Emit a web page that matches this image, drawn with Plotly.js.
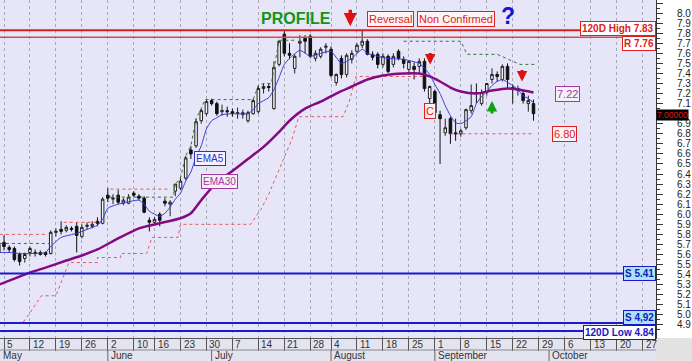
<!DOCTYPE html>
<html><head><meta charset="utf-8">
<script src="https://cdn.plot.ly/plotly-3.0.1.min.js"></script>
<style>html,body{margin:0;padding:0;background:#fff;}#chart{width:692px;height:361px;}</style>
</head><body><div id="chart"></div>
<script>
// trading-day index: 0 = Mon 5 May 2014 (first candle is index -1 = 2 May)
const firstDay = -1;
const openP  = [5.62,5.72,5.67,5.66,5.60,5.56,5.62,5.62,5.62,5.62,5.61,5.82,5.85,5.84,5.86,5.88,5.78,5.88,5.88,5.93,5.91,6.19,6.15,6.19,6.11,6.11,6.21,6.18,6.16,5.94,5.92,6.00,6.13,6.10,6.23,6.26,6.36,6.64,6.68,6.93,7.00,7.13,7.10,7.02,7.03,7.02,7.00,6.99,6.93,7.00,7.02,7.25,7.27,7.05,7.49,7.79,7.60,7.45,7.70,7.75,7.77,7.55,7.57,7.66,7.64,7.31,7.55,7.39,7.54,7.62,7.68,7.72,7.59,7.59,7.49,7.57,7.49,7.62,7.54,7.44,7.47,7.47,7.52,7.15,7.22,6.99,6.81,6.95,6.81,6.80,6.86,7.03,7.21,7.10,7.21,7.34,7.39,7.34,7.47,7.26,7.23,7.20,7.10,7.10];
const highP  = [5.75,5.79,5.69,5.68,5.62,5.62,5.68,5.65,5.64,5.63,5.84,5.86,5.93,5.89,5.88,5.92,5.90,5.92,5.93,5.97,6.17,6.26,6.20,6.24,6.16,6.20,6.23,6.20,6.18,5.97,5.97,6.02,6.16,6.14,6.30,6.36,6.58,6.68,6.95,7.05,7.14,7.15,7.12,7.09,7.07,7.05,7.06,7.04,7.03,7.15,7.28,7.30,7.30,7.52,7.73,7.82,7.70,7.59,7.78,7.78,7.79,7.63,7.66,7.70,7.67,7.40,7.58,7.60,7.63,7.70,7.83,7.74,7.62,7.61,7.60,7.59,7.60,7.64,7.57,7.53,7.51,7.55,7.55,7.28,7.24,7.03,6.95,6.97,6.95,6.85,7.05,7.29,7.30,7.24,7.30,7.45,7.42,7.49,7.50,7.29,7.28,7.23,7.18,7.14];
const lowP   = [5.58,5.64,5.62,5.53,5.49,5.52,5.58,5.58,5.59,5.58,5.60,5.78,5.80,5.82,5.83,5.62,5.76,5.85,5.86,5.88,5.90,6.12,6.10,6.10,6.09,6.10,6.17,6.14,6.01,5.83,5.90,5.88,6.08,5.98,6.18,6.24,6.34,6.55,6.66,6.90,6.98,7.08,6.98,6.98,6.97,6.97,6.95,6.95,6.91,6.99,7.00,7.20,7.22,7.04,7.47,7.57,7.54,7.40,7.56,7.60,7.55,7.52,7.55,7.60,7.36,7.28,7.35,7.36,7.50,7.60,7.65,7.58,7.53,7.45,7.46,7.40,7.46,7.53,7.45,7.39,7.34,7.40,7.22,7.10,7.00,6.50,6.78,6.70,6.73,6.77,6.84,7.00,7.10,7.08,7.18,7.30,7.32,7.32,7.25,7.10,7.18,7.10,7.02,6.93];
const closeP = [5.70,5.68,5.65,5.55,5.53,5.60,5.66,5.61,5.60,5.60,5.82,5.83,5.83,5.87,5.85,5.79,5.87,5.89,5.90,5.91,6.15,6.16,6.16,6.12,6.14,6.17,6.19,6.16,6.02,5.92,5.95,5.94,6.11,6.12,6.30,6.33,6.56,6.60,6.92,7.03,7.12,7.10,7.00,7.03,7.02,7.00,7.01,7.01,7.01,7.13,7.25,7.27,7.26,7.46,7.72,7.60,7.58,7.57,7.72,7.72,7.57,7.60,7.64,7.67,7.38,7.39,7.39,7.58,7.60,7.68,7.72,7.59,7.56,7.49,7.57,7.42,7.57,7.55,7.50,7.52,7.44,7.52,7.25,7.27,7.01,6.95,6.86,6.80,6.80,6.83,7.04,7.08,7.20,7.21,7.30,7.39,7.37,7.47,7.34,7.24,7.25,7.13,7.13,7.00];

const ema5Day = [-1,1,3,6,8,9,11,14,16,18,19,20,22,26,27,28,30,31,32,33,34,35,36,37,38,39,40,41,42,44,47,48,49,51,52,53,54,55,57,59,61,63,65,67,69,70,72,74,77,80,81,82,83,84,85,86,87,88,89,90,91,92,93,94,95,96,97,98,99,100,101,102];
const ema5Val = [5.62,5.62,5.61,5.61,5.62,5.68,5.77,5.81,5.85,5.89,5.95,6.06,6.10,6.14,6.10,6.03,5.98,6.01,6.07,6.15,6.21,6.33,6.42,6.57,6.68,6.85,6.93,6.96,6.99,7.00,7.00,7.04,7.10,7.16,7.24,7.36,7.49,7.55,7.63,7.57,7.60,7.62,7.50,7.55,7.64,7.60,7.57,7.55,7.54,7.50,7.45,7.39,7.29,7.20,7.08,6.98,6.91,6.90,6.93,6.97,7.10,7.17,7.22,7.28,7.32,7.34,7.31,7.28,7.24,7.18,7.15,7.11];

const ema30Day = [-1,2,5,8,12,15,18,22,26,30,34,36,38,41,44,47,50,53,55,58,61,64,67,70,73,77,80,82,84,86,88,91,94,97,99,102];
const ema30Val = [5.30,5.36,5.42,5.47,5.54,5.59,5.65,5.76,5.86,5.91,5.96,6.01,6.14,6.32,6.43,6.55,6.67,6.82,6.93,7.05,7.12,7.20,7.27,7.34,7.38,7.40,7.40,7.37,7.32,7.26,7.22,7.20,7.23,7.25,7.24,7.21];

// upper channel (green dotted)
const upperDay = [-0.8,8.8,null,20.4,32.6,33,34,35,36,37,38,38.7,48,49,50,51.5,52.2,53,56.5,null,77,88,89.2,95,99.4,102.3];
const upperVal = [5.71,5.71,null,6.17,6.17,6.30,6.36,6.58,6.68,6.95,7.05,7.14,7.14,7.28,7.30,7.30,7.52,7.73,7.73,null,7.72,7.72,7.59,7.59,7.49,7.49];
// resistance steps (red dotted)
const resDay = [-0.8,8.5,null,11.5,18.5,null,20.5,32];
const resVal = [5.80,5.80,null,5.92,5.92,null,6.25,6.25];
// trailing stop (red dotted)
const stopDay = [-0.8,3.6,5,7,7.2,10,11,12.5,18,18,22.5,22.5,27.5,28.5,33.5,34,47.5,49.5,51,53.5,55.5,56.8,65.3,66.5,67.8,80.7,null,86,102.2];
const stopVal = [4.92,4.92,5.02,5.17,5.19,5.19,5.33,5.52,5.52,5.57,5.57,5.61,5.61,5.77,5.77,5.90,5.90,6.05,6.20,6.50,6.75,6.97,6.97,7.12,7.37,7.37,null,6.80,6.80];

const levelVal   = [7.83, 7.76, 5.41, 4.92, 4.84];
const levelText  = ['120D High 7.83', 'R 7.76', 'S 5.41', 'S 4,92', '120D Low 4.84'];

const weekDay    = [0,5,10,15,20,25,29,34,39,44,49,54,59,63,68,73,78,83,88,93,98,103,108,113,118,123];
const weekLabel  = ['5','12','19','26','2','10','16','23','30','7','14','21','28','4','11','18','25','1','8','15','22','29','6','13','20','27'];
const monthDay   = [-0.77,20,40,63,83,105];
const monthLabel = ['May','June','July','August','September','October'];

// price-scale ticks (7.0 is covered by the last-price marker)
const yTickVals = [4.9,5.0,5.1,5.2,5.3,5.4,5.5,5.6,5.7,5.8,5.9,6.0,6.1,6.2,6.3,6.4,6.5,6.6,6.7,6.8,6.9,7.1,7.2,7.3,7.4,7.5,7.6,7.7,7.8,7.9,8.0,8.1];
const yTickText = ['4.9','5.0','5.1','5.2','5.3','5.4','5.5','5.6','5.7','5.8','5.9','6.0','6.1','6.2','6.3','6.4','6.5','6.6','6.7','6.8','6.9','7.1','7.2','7.3','7.4','7.5','7.6','7.7','7.8','7.9','8.0','8.1'];

const lastClose = '7.00000';
const ema30Last = '7.22';
const stopLast  = '6.80';

const FONT = 'Liberation Sans, Arial, sans-serif';
const days = openP.map((_, i) => firstDay + i);

const traces = [
  {type:'scatter', mode:'lines', x:resDay, y:resVal, line:{color:'#e85858', width:1, dash:'dot'}, hoverinfo:'skip', connectgaps:false},
  {type:'scatter', mode:'lines', x:stopDay, y:stopVal, line:{color:'#e85858', width:1, dash:'dot'}, hoverinfo:'skip', connectgaps:false},
  {type:'scatter', mode:'lines', x:upperDay, y:upperVal, line:{color:'#2a7a2a', width:1, dash:'dot'}, hoverinfo:'skip', connectgaps:false},
  {type:'scatter', mode:'lines', x:ema30Day, y:ema30Val, line:{color:'#840a84', width:2.5, shape:'spline', smoothing:0.6}, hoverinfo:'skip'},
  {type:'candlestick', x:days, open:openP, high:highP, low:lowP, close:closeP,
   increasing:{line:{color:'#222', width:1}, fillcolor:'#f4f4fc'},
   decreasing:{line:{color:'#111', width:1}, fillcolor:'#111'},
   whiskerwidth:0, hoverinfo:'skip'},
  {type:'scatter', mode:'lines', x:ema5Day, y:ema5Val, line:{color:'#3a3ad8', width:1, shape:'spline', smoothing:0.5}, hoverinfo:'skip'}
];

const shapes = [];
const lvlStyle = [
  {color:'#d82020', width:2}, {color:'#e04848', width:1.5},
  {color:'#1a1ad0', width:2}, {color:'#1a1ad0', width:2}, {color:'#1a1ad0', width:2}
];
levelVal.forEach((v, i) => shapes.push({type:'line', xref:'paper', x0:0, x1:1, yref:'y', y0:v, y1:v, line:lvlStyle[i], layer:'above'}));
// date band backgrounds
const bandH = 23/338, rowH = 12/338;
shapes.push({type:'rect', xref:'paper', x0:0, x1:1, yref:'paper', y0:-bandH, y1:0, fillcolor:'#e4e4f0', line:{width:0}, layer:'below'});
shapes.push({type:'rect', xref:'paper', x0:1, x1:692/656, yref:'paper', y0:-bandH, y1:0, fillcolor:'#e2e2e2', line:{width:0}, layer:'below'});
shapes.push({type:'line', xref:'paper', x0:0, x1:1, yref:'paper', y0:-rowH, y1:-rowH, line:{color:'#888', width:1}});
monthDay.slice(1).forEach(d => shapes.push({type:'line', xref:'x', x0:d, x1:d, yref:'paper', y0:-rowH, y1:-bandH, line:{color:'#666', width:1}}));

const ann = [];
weekDay.forEach((d, i) => ann.push({x:d, xref:'x', y:-6/338, yref:'paper', text:weekLabel[i], showarrow:false, xanchor:'left', yanchor:'middle', xshift:1, font:{family:FONT, size:10, color:'#333'}}));
monthDay.forEach((d, i) => ann.push({x:d, xref:'x', y:-17.5/338, yref:'paper', text:monthLabel[i], showarrow:false, xanchor:'left', yanchor:'middle', xshift:1, font:{family:FONT, size:10, color:'#333'}}));

const lvlBox = [
  {fc:'#e02020', bc:'#e02020', bg:'#ffffff', ys:1.5},
  {fc:'#e02020', bc:'#e02020', bg:'#ffffff', ys:-6},
  {fc:'#1818c8', bc:'#1818c8', bg:'#a8e4f4', ys:0},
  {fc:'#1818c8', bc:'#1818c8', bg:'#a8e4f4', ys:5},
  {fc:'#1818c8', bc:'#1818c8', bg:'#ffffff', ys:-1.5}
];
levelVal.forEach((v, i) => ann.push({x:1, xref:'paper', xanchor:'right', y:v, yref:'y', yshift:lvlBox[i].ys, text:levelText[i], showarrow:false,
  font:{family:FONT, size:10, color:lvlBox[i].fc, weight:'bold'}, bgcolor:lvlBox[i].bg, bordercolor:lvlBox[i].bc, borderwidth:1, borderpad:1}));

function box(x, y, text, fc, bc, bg, size) {
  return {x:x, y:y, xref:'x', yref:'y', text:text, showarrow:false, font:{family:FONT, size:size||10, color:fc}, bgcolor:bg, bordercolor:bc, borderwidth:1, borderpad:1};
}
ann.push(box(39.6, 6.55, 'EMA5', '#3030d0', '#3030d0', '#f4f4ff'));
ann.push(box(41.6, 6.33, 'EMA30', '#a03aa0', '#a03aa0', '#f8f0f8'));
ann.push(box(108.5, 7.20, ema30Last, '#a03aa0', '#a03aa0', '#f8f0f8', 11));
ann.push(box(107.9, 6.80, stopLast, '#e02020', '#e02020', '#fff4f4', 11));
ann.push(box(82.1, 7.03, 'C', '#e02020', '#e02020', '#fff0f0', 11));
ann.push(box(74.4, 7.94, 'Reversal', '#e02020', '#e02020', '#fff4f4', 11));
ann.push(box(87.1, 7.94, 'Non Confirmed', '#e02020', '#e02020', '#fff4f4', 11));
ann.push({x:56.3, y:7.95, xref:'x', yref:'y', text:'PROFILE', showarrow:false, font:{family:FONT, size:16, color:'#149414', weight:'bold'}});
ann.push({x:97.1, y:7.97, xref:'x', yref:'y', text:'?', showarrow:false, font:{family:FONT, size:23, color:'#1414e0', weight:'bold'}});
ann.push({x:1, xref:'paper', xanchor:'left', xshift:0, y:7.0, yref:'y', yshift:-1, text:lastClose, showarrow:false, font:{family:FONT, size:8.5, color:'#e01818'}, bgcolor:'#000', borderpad:0});

function arrow(x, y, ay, color, w, s) {
  return {x:x, y:y, xref:'x', yref:'y', ax:0, ay:ay, text:'', showarrow:true, arrowhead:2, arrowsize:s, arrowwidth:w, arrowcolor:color, standoff:0};
}
ann.push(arrow(66.7, 7.87, -18, '#e01010', 3.5, 0.75));
ann.push(arrow(82.1, 7.49, -13, '#e01010', 3, 0.7));
ann.push(arrow(99.8, 7.32, -13, '#e01010', 3, 0.7));
ann.push(arrow(94.0, 7.125, 14, '#10a010', 3, 0.7));

const layout = {
  width:692, height:361, margin:{l:0, r:36, t:0, b:23, pad:0},
  paper_bgcolor:'#ffffff', plot_bgcolor:'#e6e6f8', showlegend:false,
  xaxis:{range:[-0.771, 125.6], tickvals:weekDay, showticklabels:false, ticks:'outside', ticklen:12, tickcolor:'#555', tickwidth:1,
    showgrid:true, gridcolor:'#a8a8b8', griddash:'dot', gridwidth:1, zeroline:false, showline:true, linecolor:'#555', linewidth:1,
    rangeslider:{visible:false}, fixedrange:true},
  yaxis:{side:'right', range:[4.77, 8.13], tickmode:'array', tickvals:yTickVals, ticktext:yTickText, ticks:'outside', ticklen:6, tickcolor:'#333',
    showgrid:false, zeroline:false, showline:true, linecolor:'#333', linewidth:1, ticklabelstandoff:12,
    tickfont:{family:FONT, size:10, color:'#222'},
    minor:{tickmode:'linear', tick0:4.75, dtick:0.1, ticks:'outside', ticklen:3, tickcolor:'#333'}, fixedrange:true},
  shapes:shapes, annotations:ann
};
Plotly.newPlot('chart', traces, layout, {displayModeBar:false, staticPlot:true});
</script></body></html>
